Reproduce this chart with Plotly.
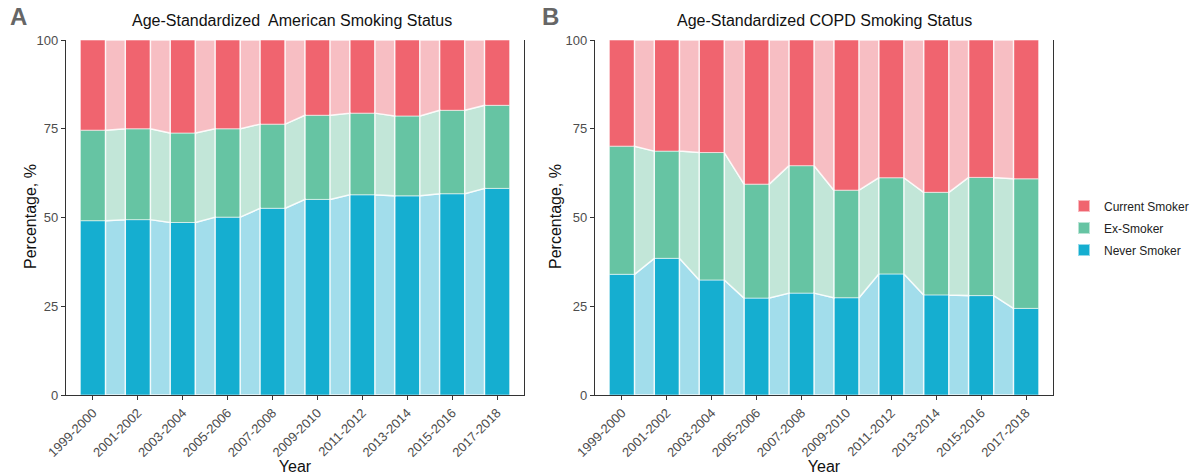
import plotly.graph_objects as go

periods = ["1999-2000", "2001-2002", "2003-2004", "2005-2006", "2007-2008",
           "2009-2010", "2011-2012", "2013-2014", "2015-2016", "2017-2018"]
statuses = ["Never Smoker", "Ex-Smoker", "Current Smoker"]

# Panel A: American population (%)
us_never = [49.1, 49.4, 48.6, 50.1, 52.6, 55.1, 56.4, 56.1, 56.7, 58.2]
us_ex = [25.5, 25.6, 25.2, 24.9, 23.7, 23.7, 23.0, 22.5, 23.5, 23.4]
us_current = [25.4, 25.0, 26.2, 25.0, 23.7, 21.2, 20.6, 21.4, 19.8, 18.4]

# Panel B: COPD population (%)
copd_never = [34.0, 38.5, 32.4, 27.3, 28.7, 27.4, 34.1, 28.2, 28.0, 24.4]
copd_ex = [36.1, 30.2, 35.9, 32.1, 35.9, 30.3, 27.1, 28.9, 33.3, 36.5]
copd_current = [29.9, 31.3, 31.7, 40.6, 35.4, 42.3, 38.8, 42.9, 38.7, 39.1]

colors = {"Never Smoker": "#15AED0", "Ex-Smoker": "#66C4A3", "Current Smoker": "#F0646F"}
light = {"Never Smoker": "#A2DDEB", "Ex-Smoker": "#C2E6D8", "Current Smoker": "#F7BEC3"}

W = 0.56
FONT = "Liberation Sans, Arial, sans-serif"

# plot-area geometry (pixels)
L, R, T, B = 66, 139, 40, 80
PW = 1192 - L - R
PH = 475 - T - B


def px_x(p):
    return (p - L) / PW


def px_y(p):
    return (475 - B - p) / PH


fig = go.Figure()


def add_panel(series, xa, ya, showlegend):
    n = len(periods)
    xs = list(range(n))
    base = [0.0] * n
    for status, vals in zip(statuses, series):
        lo = base[:]
        hi = [b + v for b, v in zip(base, vals)]
        px, py = [], []
        for i in range(n - 1):
            x0 = xs[i] + W / 2
            x1 = xs[i + 1] - W / 2
            px += [x0, x1, x1, x0, x0, None]
            py += [lo[i], lo[i + 1], hi[i + 1], hi[i], lo[i], None]
        fig.add_trace(go.Scatter(
            x=px, y=py, fill="toself", mode="lines",
            fillcolor=light[status],
            line=dict(color="rgba(255,255,255,0.8)", width=1.5),
            xaxis=xa, yaxis=ya, showlegend=False, hoverinfo="skip"))
        fig.add_trace(go.Bar(
            x=xs, y=vals, base=lo, width=W, name=status, legendgroup=status,
            marker=dict(color=colors[status],
                        line=dict(color="rgba(255,255,255,0.55)", width=1)),
            xaxis=xa, yaxis=ya, showlegend=showlegend,
            legendrank={"Current Smoker": 1, "Ex-Smoker": 2, "Never Smoker": 3}[status]))
        base = hi


add_panel([us_never, us_ex, us_current], "x", "y", True)
add_panel([copd_never, copd_ex, copd_current], "x2", "y2", False)

xcommon = dict(range=[-0.6, 9.6], tickmode="array", tickvals=list(range(len(periods))),
               ticktext=periods, tickangle=-45, showline=True, linecolor="#333333",
               linewidth=1.2, ticks="outside", ticklen=4, tickcolor="#333333",
               showgrid=False, zeroline=False, automargin=False,
               tickfont=dict(family=FONT, size=13, color="#4D4D4D"),
               title=dict(text="Year", font=dict(family=FONT, size=16, color="#111111"),
                          standoff=4))
ycommon = dict(range=[0, 100], tickvals=[0, 25, 50, 75, 100], showline=True,
               linecolor="#333333", linewidth=1.2, mirror=True, ticks="outside",
               ticklen=4, tickcolor="#333333", showgrid=False, zeroline=False,
               automargin=False,
               tickfont=dict(family=FONT, size=13, color="#4D4D4D"))


def ann(text, x, y, size, color, angle=0):
    return dict(text=text, x=px_x(x), y=px_y(y), xref="paper", yref="paper",
                showarrow=False, xanchor="center", yanchor="middle", textangle=angle,
                font=dict(family=FONT, size=size, color=color))


fig.update_layout(
    width=1192, height=475,
    margin=dict(l=L, r=R, t=T, b=B, autoexpand=False),
    plot_bgcolor="white", paper_bgcolor="white",
    barmode="overlay",
    font=dict(family=FONT),
    xaxis=dict(domain=[0, px_x(524)], anchor="y", **xcommon),
    yaxis=dict(domain=[0, 1], anchor="x", **ycommon),
    xaxis2=dict(domain=[px_x(595), 1], anchor="y2", **xcommon),
    yaxis2=dict(domain=[0, 1], anchor="x2", **ycommon),
    legend=dict(x=px_x(1064), y=px_y(228), xanchor="left", yanchor="middle",
                font=dict(family=FONT, size=12, color="#222222"),
                traceorder="grouped", tracegroupgap=3, itemsizing="constant"),
    annotations=[
        ann("Age-Standardized\u00a0 American Smoking Status", 292, 20, 16, "#111111"),
        ann("Age-Standardized COPD Smoking Status", 824, 20, 16, "#111111"),
        ann("<b>A</b>", 18, 16, 24, "#666666"),
        ann("<b>B</b>", 550, 16, 24, "#666666"),
        ann("Percentage, %", 30, 217, 16, "#111111", -90),
        ann("Percentage, %", 555, 217, 16, "#111111", -90),
    ],
)

fig.write_html("out.html", config={"displayModeBar": False},
               post_script="document.body.style.margin='0px';")
